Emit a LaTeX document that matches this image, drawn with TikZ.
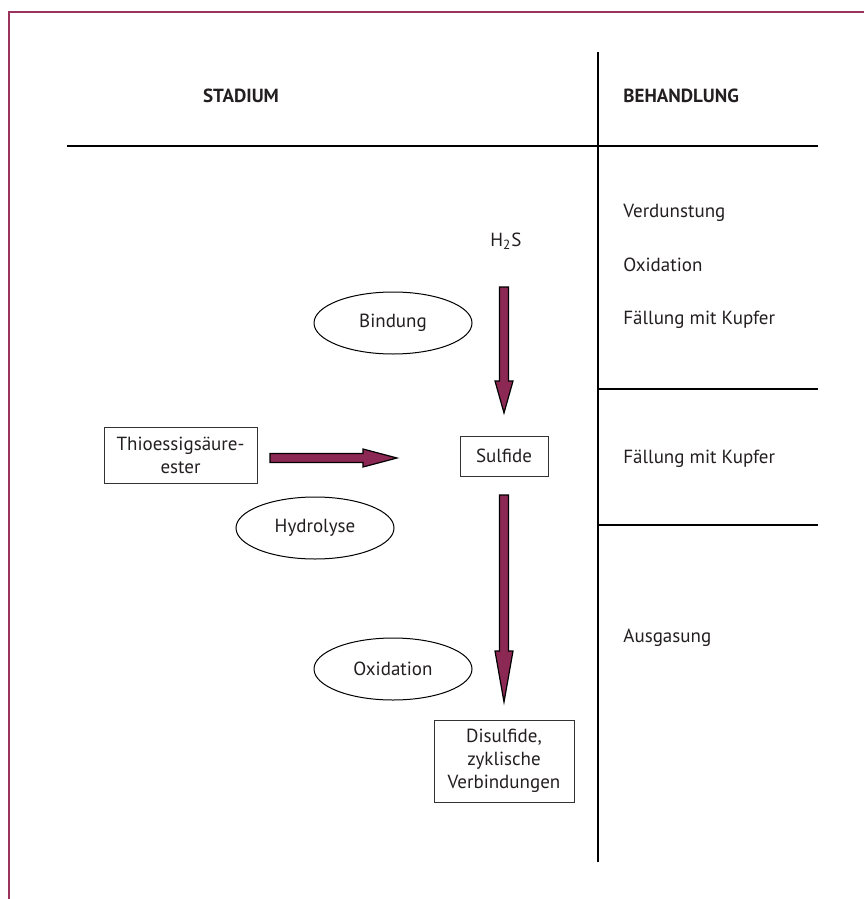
\documentclass[tikz,border=0pt]{standalone}
\usepackage{fontspec}
\setmainfont{PT Sans}
\usetikzlibrary{shapes.geometric,calc}
\definecolor{wine}{RGB}{140,40,84}
\definecolor{rahmen}{RGB}{155,52,92}
\definecolor{ink}{RGB}{35,31,32}
\tikzset{
  lbl/.style={font=\fontsize{9.5}{11.5}\selectfont, text=ink, inner sep=0pt},
  kopf/.style={lbl, font=\fontsize{9.5}{11.5}\selectfont\bfseries},
  kasten/.style={lbl, draw=black!80, line width=0.5pt, align=center},
  oval/.style={lbl, ellipse, draw=black, line width=0.5pt, minimum width=79pt, minimum height=31pt},
  linie/.style={draw=black, line width=0.75pt},
  pfeil/.style={fill=wine, draw=black, line width=0.6pt, line join=miter},
}
% block arrows: start, tip, head length
\newcommand{\pfeilrunter}[3]{%
  \filldraw[pfeil] ($(#1)+(-4.5,0)$) -- ($(#2)+(-4.5,-#3)$) -- ($(#2)+(-9,-#3)$) -- (#2)
    -- ($(#2)+(9,-#3)$) -- ($(#2)+(4.5,-#3)$) -- ($(#1)+(4.5,0)$) -- cycle;}
\newcommand{\pfeilrechts}[3]{%
  \filldraw[pfeil] ($(#1)+(0,-4.5)$) -- ($(#2)+(-#3,-4.5)$) -- ($(#2)+(-#3,-9)$) -- (#2)
    -- ($(#2)+(-#3,9)$) -- ($(#2)+(-#3,4.5)$) -- ($(#1)+(0,4.5)$) -- cycle;}
\begin{document}
\begin{tikzpicture}[x=0.5pt,y=-0.5pt]
  \useasboundingbox (0,0) rectangle (864,899);
  % frame
  \draw[rahmen, line width=1pt] (864,12) -- (9,12) -- (9,899);

  % table
  \draw[linie] (67,146) -- (818,146);
  \draw[linie] (598,52) -- (598,862);
  \draw[linie] (598,389) -- (818,389);
  \draw[linie] (598,525) -- (818,525);

  \node[kopf, anchor=base] (stadium) at (241,103) {STADIUM};
  \node[kopf, anchor=base west] (behandlung) at (623,103) {BEHANDLUNG};

  % treatment column
  \node[lbl, anchor=base west] (verdunstung) at (623,217) {Verdunstung};
  \node[lbl, anchor=base west] (oxi) at (623,271) {Oxidation};
  \node[lbl, anchor=base west] (kupfer1) at (623,324) {Fällung mit Kupfer};
  \node[lbl, anchor=base west] (kupfer2) at (623,463) {Fällung mit Kupfer};
  \node[lbl, anchor=base west] (ausgasung) at (623,642) {Ausgasung};

  % stages
  \node[lbl, anchor=base] (hs) at (506,246) {H\textsubscript{2}S};
  \node[kasten, minimum width=76.5pt, minimum height=28pt] (thio) at (180.5,455) {Thioessigsäure-\\ester};
  \node[kasten, minimum width=44pt, minimum height=20pt] (sulfide) at (504,456) {Sulfide};
  \node[kasten, minimum width=70pt, minimum height=41pt] (disulfide) at (504,761) {Disulfide,\\zyklische\\Verbindungen};

  \node[oval] (bindung) at (393,323) {Bindung};
  \node[oval] (hydrolyse) at (315,528) {Hydrolyse};
  \node[oval] (oxidation) at (393,669) {Oxidation};

  % arrows
  \coordinate (a1) at (504,287);
  \coordinate (b1) at (504,413);
  \coordinate (a2) at (270,458);
  \coordinate (b2) at (397,458);
  \coordinate (a3) at (504,495);
  \coordinate (b3) at (504,702);
  \pfeilrunter{a1}{b1}{32}
  \pfeilrechts{a2}{b2}{34}
  \pfeilrunter{a3}{b3}{51}
\end{tikzpicture}
\end{document}
